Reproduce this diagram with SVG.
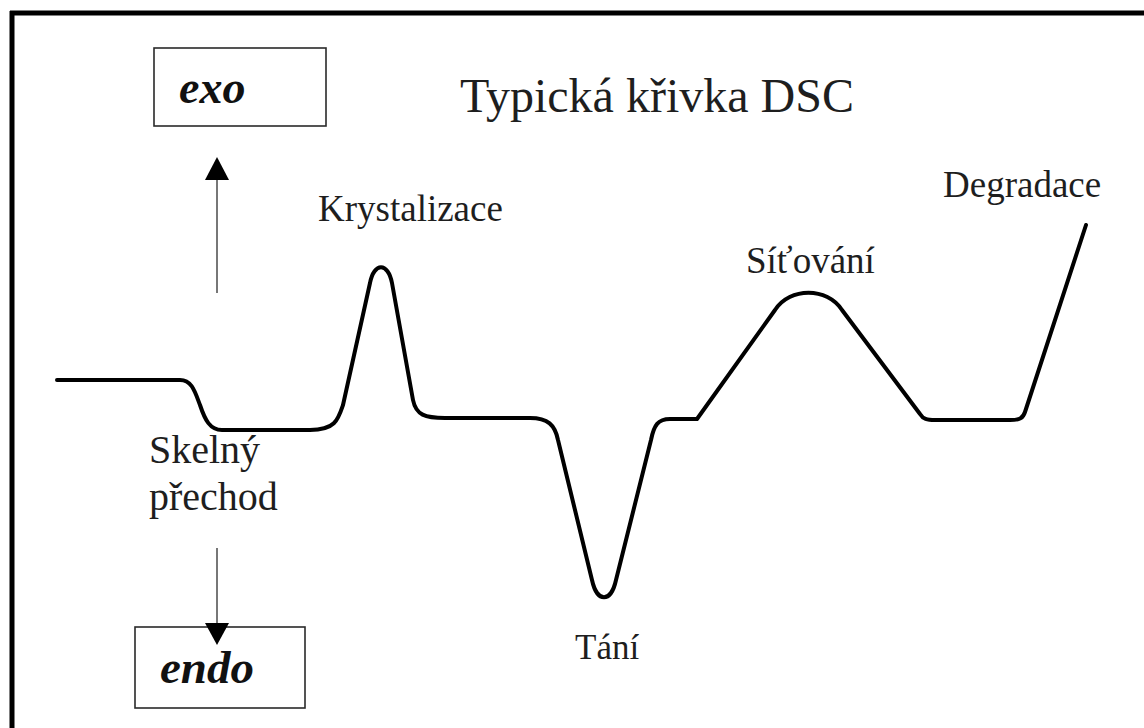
<svg xmlns="http://www.w3.org/2000/svg" width="1144" height="728" viewBox="0 0 1144 728">
  <style>
    .frame { stroke: #000; stroke-width: 5; fill: none; }
    .box { fill: #fff; stroke: #2a2a2a; stroke-width: 1.6; }
    .axis { stroke: #555; stroke-width: 1.6; fill: none; }
    .head { fill: #000; }
    .curve { fill: none; stroke: #000; stroke-width: 4; stroke-linejoin: round; stroke-linecap: round; }
    .lbl { font-family: "Liberation Serif", "Times New Roman", serif; fill: #1e1e1e; }
    .dir { font-family: "Liberation Serif", "Times New Roman", serif; font-weight: bold; font-style: italic; fill: #111; }
  </style>

  <rect width="1144" height="728" fill="#fff"/>

  <!-- outer frame: top and left edges only -->
  <g id="frame">
    <line class="frame" x1="10" y1="13" x2="1144" y2="13"/>
    <line class="frame" x1="12" y1="11" x2="12" y2="728"/>
  </g>

  <text id="title" class="lbl" x="460" y="112" font-size="48">Typická křivka DSC</text>

  <g id="exo">
    <rect class="box" x="154" y="48" width="172" height="78"/>
    <text class="dir" x="179" y="103" font-size="46">exo</text>
  </g>

  <g id="endo">
    <rect class="box" x="135" y="627" width="170" height="81"/>
    <text class="dir" x="160" y="683" font-size="47">endo</text>
  </g>

  <g id="connectors">
    <line class="axis" x1="217" y1="293" x2="217" y2="178"/>
    <polygon class="head" points="217,157 205,180 229,180"/>
    <line class="axis" x1="217" y1="548" x2="217" y2="625"/>
    <polygon class="head" points="205,623 229,623 217,645"/>
  </g>

  <!-- DSC trace -->
  <g id="dsc-curve">
    <path class="curve" d="M57,380 H180 C192,380 195,392 200,405 C205,420 210,430 222,430 H310 C335,430 338,420 343,405 L370,283 C374,262 388,262 392,283 L413,400 C416,415 425,418 445,418 H530 C548,418 555,425 558,440 L592,580 C597,603 611,603 616,580 L651,440 C654,425 658,419 670,419 H697 L775,310 C790,287 827,287 842,310 L920,414 C923,419 927,420 935,420 H1010 C1020,420 1023,418 1025,412 L1086,225"/>
  </g>

  <g id="labels">
    <text class="lbl" x="318" y="221" font-size="37">Krystalizace</text>
    <text class="lbl" x="149" y="463" font-size="40">Skelný</text>
    <text class="lbl" x="149" y="510" font-size="40">přechod</text>
    <text class="lbl" x="575" y="659" font-size="35">Tání</text>
    <text class="lbl" x="746" y="273" font-size="37">Síťování</text>
    <text class="lbl" x="943" y="197" font-size="37">Degradace</text>
  </g>
</svg>
